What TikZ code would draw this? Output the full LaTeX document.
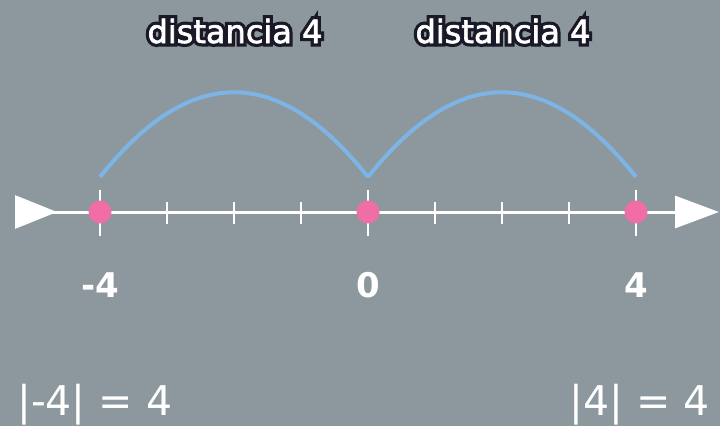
\documentclass[tikz,border=0pt]{standalone}
\usepackage{fontspec}
\setmainfont{DejaVu Sans}
\newfontfamily\haloface{DejaVu Sans}[FakeBold=22]
\newfontfamily\inkface{DejaVu Sans}[FakeBold=2]
\usetikzlibrary{arrows.meta,positioning,calc}
\definecolor{bgcolor}{RGB}{140,152,157}
\definecolor{dotpink}{RGB}{240,110,165}
\definecolor{arcblue}{RGB}{125,180,230}
\definecolor{outlinedark}{RGB}{25,25,40}
\newcommand{\halotext}[1]{\makebox[0pt][l]{\color{outlinedark}\haloface#1}{\inkface#1}}
\tikzset{
  axisline/.style={draw=white,line width=3pt,
    arrows={{Triangle[reversed,length=42pt,width=33pt]}-{Triangle[length=44pt,width=32pt]}}},
  tickmark/.style={draw=white,line width=2.5pt},
  numdot/.style={circle,fill=dotpink,minimum size=23pt,inner sep=0pt},
  hoparc/.style={draw=arcblue,line width=4pt},
  numlab/.style={text=white,font=\fontsize{34}{34}\selectfont\bfseries,inner sep=0pt},
  abslab/.style={text=white,font=\fontsize{41}{41}\selectfont,inner sep=0pt},
  distlab/.style={text=white,font=\fontsize{32}{32}\selectfont,inner sep=0pt,anchor=base},
}
\begin{document}
\begin{tikzpicture}[x=1pt,y=-1pt]
  \fill[bgcolor] (0,0) rectangle (720,426);
  \useasboundingbox (0,0) rectangle (720,426);
  % number line
  \coordinate (west) at (15,212);
  \coordinate (east) at (719,212);
  \draw[axisline] (west) -- (east);
  \foreach \i in {-3,-2,-1,1,2,3}
    \draw[tickmark] (368+67*\i,202) -- (368+67*\i,224);
  \foreach \n/\x in {m4/100,0/368,4/636} {
    \draw[tickmark] (\x,190) -- (\x,236);
    \node[numdot] (p\n) at (\x,212) {};
  }
  % jumps
  \draw[hoparc] ([yshift=35pt]pm4.center) .. controls +(90,-113) and +(-90,-113) .. ([yshift=35pt]p0.center);
  \draw[hoparc] ([yshift=35pt]p0.center) .. controls +(90,-113) and +(-90,-113) .. ([yshift=35pt]p4.center);
  \node[distlab] (dleft) at (235,43) {\halotext{distancia 4}};
  \node[distlab] (dright) at (503,43) {\halotext{distancia 4}};
  % labels
  \node[numlab] (lm4) at ([yshift=-73pt]pm4.center) {-4};
  \node[numlab] (l0) at ([yshift=-73pt]p0.center) {0};
  \node[numlab] (l4) at ([yshift=-73pt]p4.center) {4};
  \node[abslab,anchor=base west] (absm4) at (17,415) {|-4| = 4};
  \node[abslab,anchor=base east] (abs4) at (710,415) {|4| = 4};
\end{tikzpicture}
\end{document}
